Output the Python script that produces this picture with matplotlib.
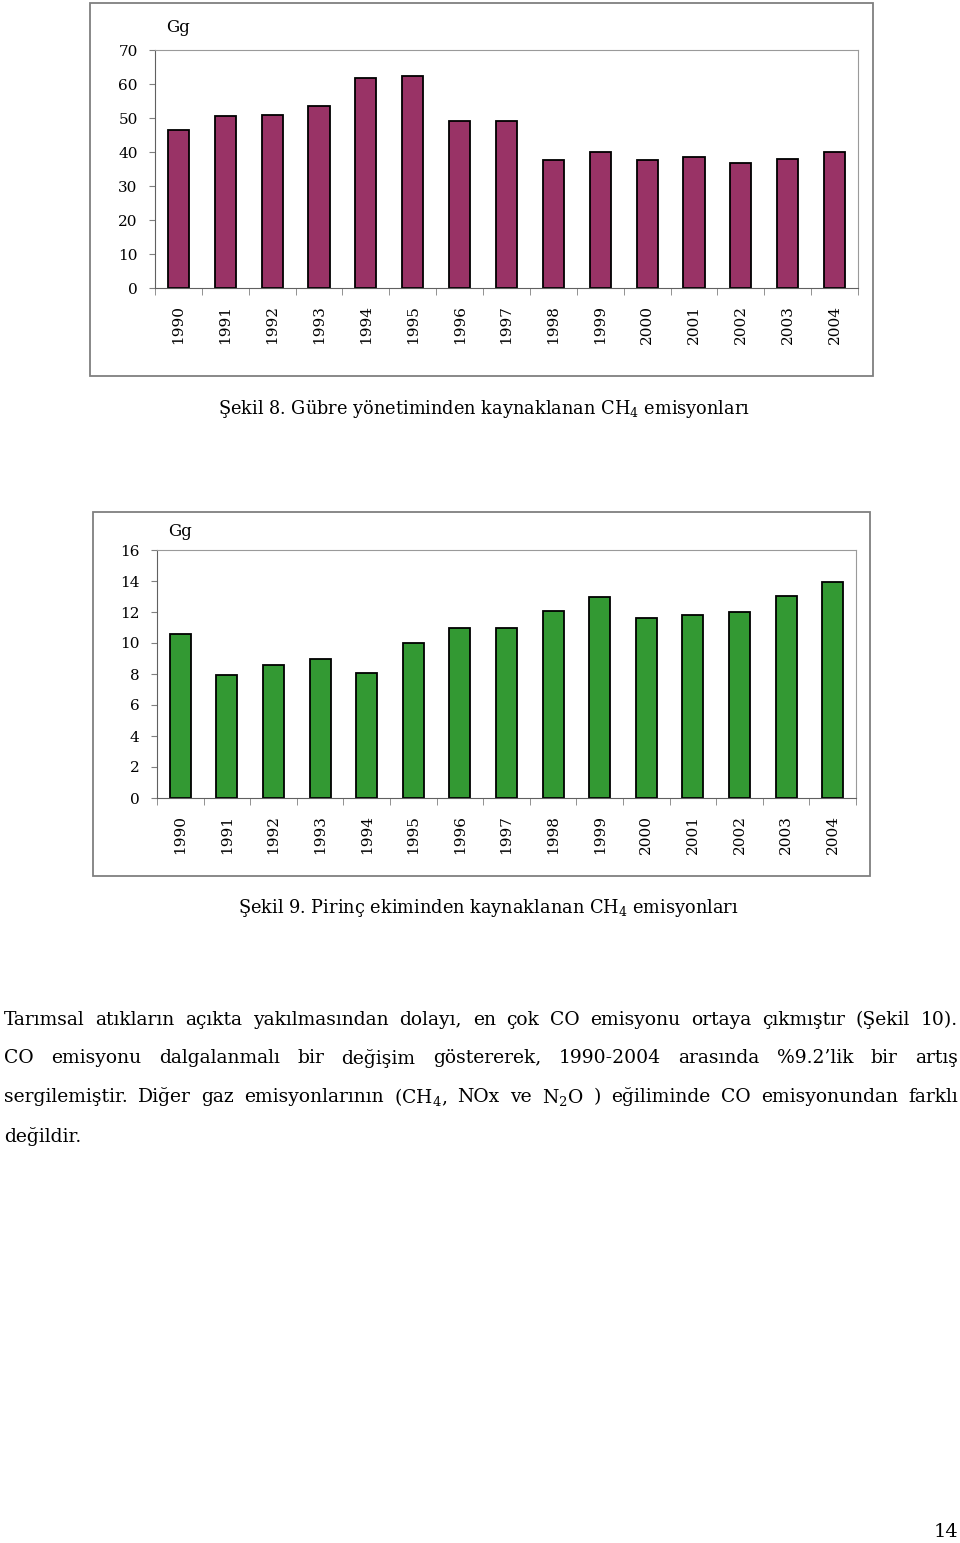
import numpy as np
import matplotlib.pyplot as plt
from matplotlib.patches import Rectangle

plt.rcParams['font.family'] = ['DejaVu Serif']
plt.rcParams['mathtext.fontset'] = 'dejavuserif'

# data
years = ['1990', '1991', '1992', '1993', '1994', '1995', '1996', '1997',
         '1998', '1999', '2000', '2001', '2002', '2003', '2004']
gubre = [46.4, 50.6, 51.0, 53.4, 61.8, 62.3, 49.1, 49.1,
         37.6, 39.9, 37.6, 38.5, 36.8, 38.0, 39.9]
pirinc = [10.6, 7.95, 8.55, 8.98, 8.06, 10.0, 10.97, 10.97,
          12.07, 13.0, 11.63, 11.82, 12.0, 13.05, 13.93]

W, H = 960, 1543
fig = plt.figure(figsize=(W / 100, H / 100), dpi=100)


def px(x, y):
    # pixel position -> figure fraction
    return x / W, 1 - y / H


def bar_chart(rect, box, values, color, ymax, ystep, gg_xy):
    # outer frame around the chart
    bx0, by0, bx1, by1 = box
    fig.patches.append(Rectangle(px(bx0, by1), (bx1 - bx0) / W, (by1 - by0) / H,
                                 transform=fig.transFigure, fill=False,
                                 edgecolor='#7f7f7f', linewidth=1.3))
    x0, y0, x1, y1 = rect
    ax = fig.add_axes([x0 / W, 1 - y1 / H, (x1 - x0) / W, (y1 - y0) / H])
    xs = np.arange(len(years))
    ax.bar(xs, values, width=0.45, color=color, edgecolor='black', linewidth=1.3)
    ax.set_xlim(-0.5, len(years) - 0.5)
    ax.set_ylim(0, ymax)
    ax.set_yticks(np.arange(0, ymax + 1, ystep))
    ax.set_xticks(xs)
    ax.set_xticklabels(years, rotation=90, fontsize=11)
    ax.set_xticks(np.arange(-0.5, len(years), 1), minor=True)
    ax.tick_params(axis='x', which='major', length=0, pad=12)
    ax.tick_params(axis='x', which='minor', length=5, color='#808080', direction='out')
    ax.tick_params(axis='y', length=4.5, color='#808080', labelsize=11, pad=8)
    for s in ['top', 'right']:
        ax.spines[s].set_color('#9a9a9a')
    for s in ['left', 'bottom']:
        ax.spines[s].set_color('#606060')
    gx, gy = px(*gg_xy)
    fig.text(gx, gy, 'Gg', fontsize=12, va='center', ha='left')
    return ax


bar_chart((155, 50, 858, 288), (90, 3, 873, 376), gubre, '#993366', 70, 10, (166, 27))
bar_chart((157, 550, 856, 798), (93, 512, 870, 876), pirinc, '#339933', 16, 2, (168, 532))

cx, cy = px(218, 409)
fig.text(cx, cy, 'Şekil 8. Gübre yönetiminden kaynaklanan CH$_4$ emisyonları',
         fontsize=12.8, va='center', ha='left')
cx, cy = px(238, 908)
fig.text(cx, cy, 'Şekil 9. Pirinç ekiminden kaynaklanan CH$_4$ emisyonları',
         fontsize=12.8, va='center', ha='left')

# paragraph text, justified by hand
lines = [
    'Tarımsal atıkların açıkta yakılmasından dolayı, en çok CO emisyonu ortaya çıkmıştır (Şekil 10).',
    'CO emisyonu dalgalanmalı bir değişim göstererek, 1990-2004 arasında %9.2’lik bir artış',
    'sergilemiştir. Diğer gaz emisyonlarının (CH$_4$, NOx ve N$_2$O ) eğiliminde CO emisyonundan farklı',
    'değildir.',
]
line_y = [1020, 1058, 1097, 1136]

fig.canvas.draw()
r = fig.canvas.get_renderer()
for i, (line, ly) in enumerate(zip(lines, line_y)):
    words = line.split(' ')
    ts = [fig.text(0, 1 - ly / H, w, fontsize=13.5, va='center', ha='left') for w in words]
    widths = [t.get_window_extent(r).width for t in ts]
    if i < len(lines) - 1:
        gap = (958 - 4 - sum(widths)) / (len(words) - 1)
    else:
        gap = 9
    x = 4
    for t, w in zip(ts, widths):
        t.set_x(x / W)
        x += w + gap

nx, ny = px(958, 1532)
fig.text(nx, ny, '14', fontsize=14, va='center', ha='right')

fig.savefig('out.png', dpi=100)
